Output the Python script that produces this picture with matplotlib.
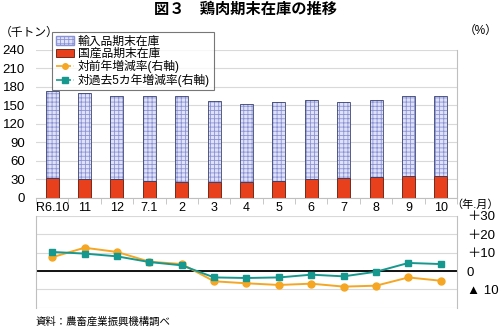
import numpy as np
import matplotlib
matplotlib.use("Agg")
import matplotlib.pyplot as plt
from matplotlib.patches import Patch
from matplotlib.lines import Line2D

plt.rcParams['font.family'] = ['Liberation Sans', 'Noto Sans CJK JP', 'DejaVu Sans']
plt.rcParams['hatch.linewidth'] = 0.6

# data
months = ['R6.10', '11', '12', '7.1', '2', '3', '4', '5', '6', '7', '8', '9', '10']
imports = [141, 139, 135, 139.5, 139.5, 131, 127.5, 127.5, 129, 123.5, 126, 130, 130]
domestic = [32, 31, 30, 26.5, 26, 26, 25, 27.5, 30, 32, 33.5, 34.5, 34.5]
yoy = [7.5, 12.7, 10.4, 5.1, 3.8, -5.6, -6.7, -7.6, -6.9, -8.5, -8.0, -3.5, -5.3]
vs5yr = [10.4, 9.5, 8.0, 4.9, 3.1, -3.5, -3.8, -3.5, -2.0, -2.9, -0.4, 4.4, 3.8]

left_ticks = [0, 30, 60, 90, 120, 150, 180, 210, 240]
right_ticks = [30, 20, 10, 0, -10]
right_labels = ['＋30', '＋20', '＋10', '0', '▲ 10']

IMP_FACE = '#dfe2f6'
IMP_HATCH = '#8a93d6'
IMP_EDGE = '#3c4470'
DOM_COLOR = '#e8401c'
ORANGE = '#f5a623'
TEAL = '#17988f'
GRID = '#d9d9d9'
AXIS = '#bfbfbf'

W, H = 500, 329
fig = plt.figure(figsize=(W / 100, H / 100), dpi=100)

def fx(px):
    return px / W

def fy(px):
    return 1 - px / H

x = np.arange(len(months))
bw = 0.4

# upper panel: stocks
ax = fig.add_axes([fx(36), fy(197.7), fx(457 - 36), (197.7 - 50) / H])
ax.bar(x, domestic, bw, color=DOM_COLOR, edgecolor='#5a1a0a', linewidth=0.6, zorder=3)
ax.bar(x, imports, bw, bottom=domestic, color=IMP_FACE, edgecolor=IMP_HATCH,
       hatch='++++', linewidth=0, zorder=3)
ax.bar(x, imports, bw, bottom=domestic, fill=False, edgecolor=IMP_EDGE,
       linewidth=0.6, zorder=4)
ax.set_ylim(0, 240)
ax.set_xlim(-0.5, len(months) - 0.5)
ax.set_yticks(left_ticks)
ax.tick_params(axis='y', length=0, labelsize=9.5, pad=8)
ax.set_xticks(x)
ax.set_xticklabels(months, fontsize=9)
ax.set_xticks(np.arange(len(months) + 1) - 0.5, minor=True)
ax.tick_params(axis='x', which='major', length=0, pad=3)
ax.tick_params(axis='x', which='minor', length=4, color=AXIS)
ax.grid(axis='y', color=GRID, linewidth=0.8, zorder=0)
for s in ['top', 'left']:
    ax.spines[s].set_visible(False)
ax.spines['right'].set_color(AXIS)
ax.spines['bottom'].set_color(AXIS)

# lower panel: rates
ax2 = fig.add_axes([fx(36), fy(307.7), fx(457 - 36), (307.7 - 216) / H])
ax2.plot(x, yoy, color=ORANGE, marker='o', markersize=5, linewidth=1.4, zorder=3)
ax2.plot(x, vs5yr, color=TEAL, marker='s', markersize=5, linewidth=1.4, zorder=4)
ax2.axhline(0, color='black', linewidth=1.3, zorder=2)
ax2.set_ylim(-20, 30)
ax2.set_xlim(-0.5, len(months) - 0.5)
ax2.set_xticks([])
ax2.yaxis.tick_right()
ax2.set_yticks(right_ticks, minor=False)
ax2.set_yticks([-20], minor=True)
ax2.grid(axis='y', which='both', color=GRID, linewidth=0.8, zorder=0)
ax2.set_yticklabels(right_labels, fontsize=9.5)
ax2.tick_params(axis='y', which='both', length=0, pad=7)
for s in ['top', 'bottom']:
    ax2.spines[s].set_visible(False)
ax2.spines['left'].set_color(AXIS)
ax2.spines['right'].set_color(AXIS)

# legend
handles = [
    Patch(facecolor=IMP_FACE, edgecolor=IMP_HATCH, hatch='++++'),
    Patch(facecolor=DOM_COLOR, edgecolor='#5a1a0a', linewidth=0.6),
    Line2D([], [], color=ORANGE, marker='o', markersize=4, linewidth=1.2, linestyle='--'),
    Line2D([], [], color=TEAL, marker='s', markersize=4, linewidth=1.2, linestyle='--'),
]
labels = ['輸入品期末在庫', '国産品期末在庫', '対前年増減率(右軸)', '対過去5カ年増減率(右軸)']
leg = fig.legend(handles, labels, loc='upper left', bbox_to_anchor=(fx(52), fy(32)),
                 fontsize=8.5, frameon=True, fancybox=False, edgecolor='#555555',
                 borderpad=0.3, labelspacing=0.02, handlelength=1.6, handletextpad=0.3,
                 handleheight=0.7, borderaxespad=0)
leg.get_frame().set_linewidth(0.8)

# texts
fig.text(0.49, fy(10), '図３　鶏肉期末在庫の推移', ha='center', va='center',
         fontsize=11, fontweight='bold')
fig.text(fx(0), fy(33), '（千トン）', ha='left', va='center', fontsize=8.5)
fig.text(fx(498), fy(31), '（%）', ha='right', va='center', fontsize=8.5)
fig.text(fx(499), fy(205), '（年.月）', ha='right', va='center', fontsize=8)
fig.text(fx(36), fy(322), '資料：農畜産業振興機構調べ', ha='left', va='center', fontsize=7.5)

fig.savefig('out.png', dpi=100)
